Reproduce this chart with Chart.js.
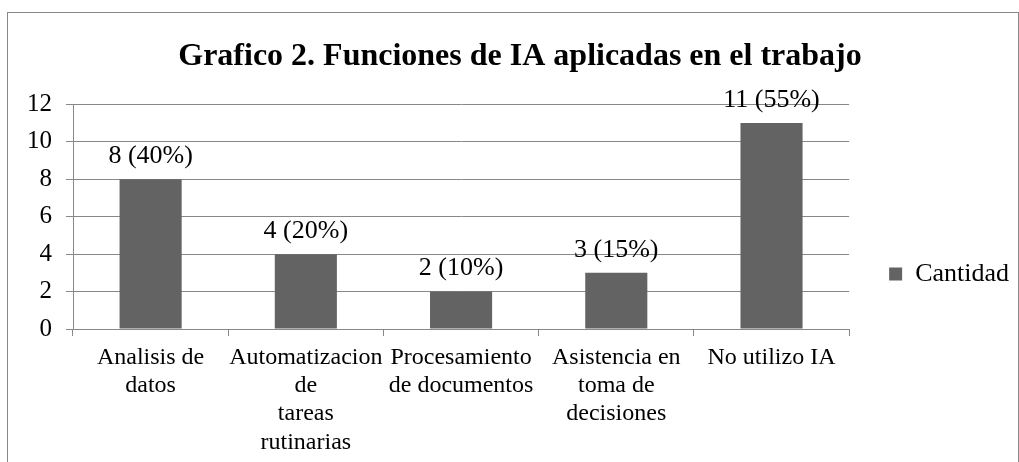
<!DOCTYPE html>
<html>
<head>
<meta charset="utf-8">
<script src="https://cdn.jsdelivr.net/npm/chart.js@4.4.0/dist/chart.umd.min.js"></script>
<style>
  html, body { margin: 0; padding: 0; background: #fff; }
</style>
</head>
<body>
<canvas id="myChart" width="1019" height="462"></canvas>
<script>
// datos del grafico
const categorias = [
    ['Analisis de', 'datos'],
    ['Automatizacion', 'de', 'tareas', 'rutinarias'],
    ['Procesamiento', 'de documentos'],
    ['Asistencia en', 'toma de', 'decisiones'],
    'No utilizo IA'
];
const cantidad = [8, 4, 2, 3, 11];
const porcentaje = [40, 20, 10, 15, 55];
const yTicks = [0, 2, 4, 6, 8, 10, 12];

const FUENTE = '"Liberation Serif", "Times New Roman", serif';
const GRIS = '#888888';

// marco exterior del grafico
const marco = {
    id: 'marco',
    beforeDraw(chart) {
        const ctx = chart.ctx;
        ctx.save();
        ctx.strokeStyle = GRIS;
        ctx.lineWidth = 1;
        ctx.strokeRect(7.5, 12.5, 1011, chart.height + 20);
        ctx.restore();
    }
};

// etiquetas encima de las barras
const etiquetas = {
    id: 'etiquetas',
    afterDatasetsDraw(chart) {
        const ctx = chart.ctx;
        const meta = chart.getDatasetMeta(0);
        ctx.save();
        ctx.font = '26px ' + FUENTE;
        ctx.fillStyle = '#000';
        ctx.textAlign = 'center';
        ctx.textBaseline = 'middle';
        meta.data.forEach((bar, i) => {
            ctx.fillText(cantidad[i] + ' (' + porcentaje[i] + '%)', bar.x, bar.y - 23);
        });
        ctx.restore();
    }
};

const data = {
    labels: categorias,
    datasets: [{
        label: 'Cantidad',
        data: cantidad,
        backgroundColor: '#636363',
        borderWidth: 0,
        barPercentage: 0.4,
        categoryPercentage: 1
    }]
};

const config = {
    type: 'bar',
    data: data,
    options: {
        responsive: false,
        animation: false,
        layout: { padding: { left: 21, right: 0, top: 0, bottom: 0 } },
        scales: {
            x: {
                afterFit: (scale) => {
                    scale.height = 133;
                },
                grid: {
                    offset: true,
                    drawOnChartArea: false,
                    drawTicks: true,
                    tickLength: 7,
                    color: GRIS
                },
                border: { color: GRIS },
                ticks: {
                    color: '#000',
                    maxRotation: 0,
                    autoSkip: false,
                    padding: 8,
                    font: { family: FUENTE, size: 24, lineHeight: 1.17 }
                }
            },
            y: {
                min: 0,
                max: 12,
                afterBuildTicks: (scale) => {
                    scale.ticks = yTicks.map(v => ({ value: v }));
                },
                afterFit: (scale) => {
                    scale.width = 52;
                },
                grid: { color: GRIS, tickLength: 7 },
                border: { color: GRIS },
                ticks: {
                    color: '#000',
                    padding: 14,
                    font: { family: FUENTE, size: 25 }
                }
            }
        },
        plugins: {
            title: {
                display: true,
                text: 'Grafico 2. Funciones de IA aplicadas en el trabajo',
                color: '#000',
                font: { family: FUENTE, size: 32, weight: 'bold', lineHeight: 1.2 },
                padding: { top: 38, bottom: 28 }
            },
            legend: {
                position: 'right',
                align: 'center',
                maxWidth: 171,
                // titulo vacio: solo baja la leyenda hasta la altura del original
                title: {
                    display: true,
                    text: '',
                    font: { size: 4, lineHeight: 1 },
                    padding: { top: 82, bottom: 0 }
                },
                labels: {
                    boxWidth: 13,
                    boxHeight: 13,
                    padding: 40,
                    color: '#000',
                    font: { family: FUENTE, size: 26 }
                }
            },
            tooltip: { enabled: false }
        }
    },
    plugins: [marco, etiquetas]
};

const myChart = new Chart(
    document.getElementById('myChart'),
    config
);
</script>
</body>
</html>
